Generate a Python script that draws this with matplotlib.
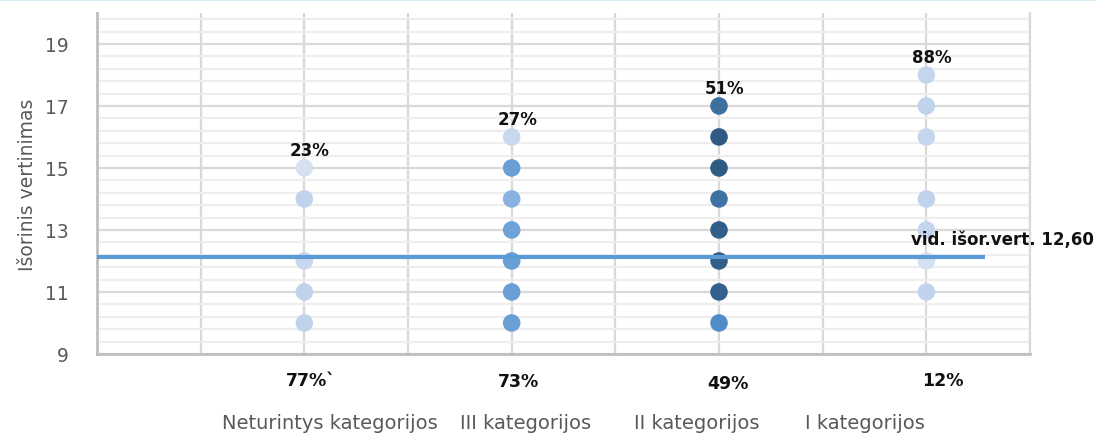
import numpy as np
import matplotlib.pyplot as plt
from matplotlib.ticker import MultipleLocator, FixedLocator

# category positions on the x axis and the scores in each group
categories = ["Neturintys kategorijos", "III kategorijos", "II kategorijos", "I kategorijos"]
cat_x = [2, 4, 6, 8]
scores = [
    [15, 14, 12, 11, 10],
    [16, 15, 14, 13, 12, 11, 10],
    [17, 16, 15, 14, 13, 12, 11, 10],
    [18, 17, 16, 14, 13, 12, 11],
]
point_colors = [
    ["#d5e1f1", "#c0d3ec", "#c8d8ee", "#c0d3ec", "#c0d3ec"],
    ["#c8d8ee", "#6a9fd6", "#8ab2e0", "#6ea2d8", "#6a9fd6", "#6a9fd6", "#6a9fd6"],
    ["#3d6f9f", "#2f5a84", "#2f5a84", "#3e72a3", "#325e8a", "#325e8a", "#33608c", "#4f8cc8"],
    ["#c4d6ed", "#c0d3ec", "#c4d6ed", "#c0d3ec", "#c4d6ed", "#d5e1f1", "#c0d3ec"],
]
top_labels = ["23%", "27%", "51%", "88%"]
bottom_labels = ["77%`", "73%", "49%", "12%"]
avg_value = 12.12
avg_text = "vid. išor.vert. 12,60"

fig = plt.figure(figsize=(10.96, 4.35), dpi=100)
ax = fig.add_axes([0.0885, 0.184, 0.8513, 0.784])

ax.set_xlim(0, 9)
ax.set_ylim(9, 20)
ax.xaxis.set_major_locator(MultipleLocator(1))
ax.set_yticks([9, 11, 13, 15, 17, 19])
ax.yaxis.set_minor_locator(FixedLocator(np.arange(9.4, 20, 0.4)))
ax.grid(True, which="major", color="#d9d9d9", lw=1.6, zorder=0)
ax.grid(True, which="minor", axis="y", color="#eeeeee", lw=1.6, zorder=0)
ax.set_axisbelow(True)
ax.tick_params(axis="x", labelbottom=False, length=0)
ax.tick_params(axis="y", which="both", length=0, labelsize=13.5, labelcolor="#595959", pad=20)
ax.spines["top"].set_visible(False)
ax.spines["right"].set_color("#d9d9d9")
ax.spines["right"].set_linewidth(1.6)
for s in ["left", "bottom"]:
    ax.spines[s].set_color("#bfbfbf")
    ax.spines[s].set_linewidth(2)

for x, ys, cs in zip(cat_x, scores, point_colors):
    ax.scatter([x] * len(ys), ys, s=160, c=cs, edgecolors="none", zorder=3)

for x, ys, lab in zip(cat_x, scores, top_labels):
    ax.annotate(lab, (x, max(ys)), xytext=(4, 13), textcoords="offset points",
                ha="center", va="center", fontsize=12, fontweight="bold", color="#111111")

ax.plot([0, 8.57], [avg_value, avg_value], color="#5b9bd5", lw=3, zorder=4, solid_capstyle="butt")
ax.text(7.85, 12.72, avg_text, fontsize=12, fontweight="bold", color="#111111", va="center", ha="left",
        clip_on=False)

narrow = ["Liberation Sans Narrow", "DejaVu Sans"]
bottom_x = [2.06, 4.07, 6.09, 8.16]
bottom_y = [-0.075, -0.08, -0.085, -0.075]
for bx, by, lab in zip(bottom_x, bottom_y, bottom_labels):
    ax.text(bx, by, lab, transform=ax.get_xaxis_transform(), ha="center", va="center",
            fontsize=12.5, fontweight="bold", family=narrow, color="#111111")

cat_label_x = [2.25, 4.13, 5.79, 7.41]
for cx, lab in zip(cat_label_x, categories):
    ax.text(cx, -0.2, lab, transform=ax.get_xaxis_transform(), ha="center", va="center",
            fontsize=14, family=narrow, color="#595959")

ax.set_ylabel("Išorinis vertinimas", fontsize=13.5, color="#595959", labelpad=6)

fig.add_artist(plt.Line2D([0, 1], [0.998, 0.998], color="#d6eef5", lw=1.5))

fig.savefig("out.png", dpi=100)
